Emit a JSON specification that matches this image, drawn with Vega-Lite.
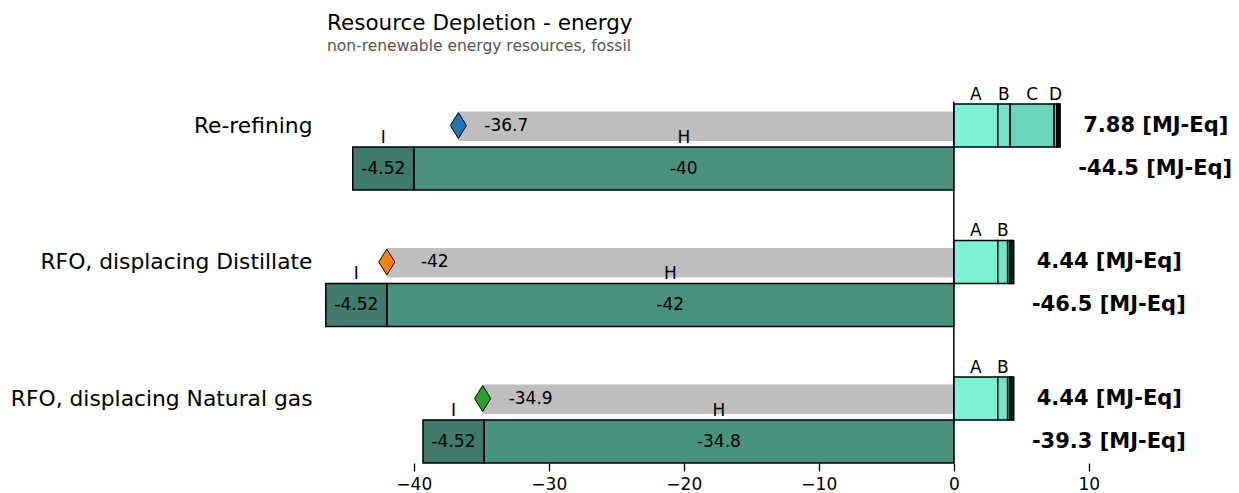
{
  "$schema": "https://vega.github.io/schema/vega-lite/v6.json",
  "width": 820.8,
  "height": 361.5,
  "autosize": {"type": "none"},
  "padding": {"left": 322, "top": 101.5, "right": 96.2, "bottom": 30},
  "title": {
    "text": "Resource Depletion - energy",
    "subtitle": "non-renewable energy resources, fossil",
    "anchor": "start",
    "frame": "group",
    "font": "DejaVu Sans",
    "subtitleFont": "DejaVu Sans",
    "fontSize": 21.5,
    "fontWeight": "normal",
    "color": "black",
    "subtitleFontSize": 15.5,
    "subtitleColor": "#555555",
    "subtitlePadding": 5,
    "dx": 5,
    "offset": 31
  },
  "config": {
    "font": "DejaVu Sans",
    "view": {"stroke": null},
    "locale": {"number": {"decimal": ".", "thousands": ",", "grouping": [3], "currency": ["", " [MJ-Eq]"], "minus": "-"}},
    "axisX": {"grid": false, "domain": false, "tickColor": "black", "tickSize": 8, "tickWidth": 1.3, "labelFontSize": 17, "labelColor": "black", "labelPadding": 5, "labelFont": "DejaVu Sans"},
    "axisY": {"grid": false, "domain": false, "ticks": false, "labelFontSize": 21.8, "labelColor": "black", "labelPadding": 10, "labelOffset": -21.5, "labelLimit": 0, "labelFont": "DejaVu Sans"}
  },
  "datasets": {
    "segments": [
      {"cat": "Re-refining", "row": "pos", "seg": "A", "value": 3.26, "label": "A"},
      {"cat": "Re-refining", "row": "pos", "seg": "B", "value": 0.91, "label": "B"},
      {"cat": "Re-refining", "row": "pos", "seg": "C", "value": 3.26, "label": "C"},
      {"cat": "Re-refining", "row": "pos", "seg": "D", "value": 0.2, "label": "D"},
      {"cat": "Re-refining", "row": "pos", "seg": "E", "value": 0.12, "label": ""},
      {"cat": "Re-refining", "row": "pos", "seg": "F", "value": 0.13, "label": ""},
      {"cat": "Re-refining", "row": "neg", "seg": "H", "value": -40, "label": "H"},
      {"cat": "Re-refining", "row": "neg", "seg": "I", "value": -4.52, "label": "I"},
      {"cat": "RFO, displacing Distillate", "row": "pos", "seg": "A", "value": 3.26, "label": "A"},
      {"cat": "RFO, displacing Distillate", "row": "pos", "seg": "B", "value": 0.73, "label": "B"},
      {"cat": "RFO, displacing Distillate", "row": "pos", "seg": "C", "value": 0.17, "label": ""},
      {"cat": "RFO, displacing Distillate", "row": "pos", "seg": "E", "value": 0.13, "label": ""},
      {"cat": "RFO, displacing Distillate", "row": "pos", "seg": "F", "value": 0.15, "label": ""},
      {"cat": "RFO, displacing Distillate", "row": "neg", "seg": "H", "value": -42, "label": "H"},
      {"cat": "RFO, displacing Distillate", "row": "neg", "seg": "I", "value": -4.52, "label": "I"},
      {"cat": "RFO, displacing Natural gas", "row": "pos", "seg": "A", "value": 3.26, "label": "A"},
      {"cat": "RFO, displacing Natural gas", "row": "pos", "seg": "B", "value": 0.73, "label": "B"},
      {"cat": "RFO, displacing Natural gas", "row": "pos", "seg": "C", "value": 0.17, "label": ""},
      {"cat": "RFO, displacing Natural gas", "row": "pos", "seg": "E", "value": 0.13, "label": ""},
      {"cat": "RFO, displacing Natural gas", "row": "pos", "seg": "F", "value": 0.15, "label": ""},
      {"cat": "RFO, displacing Natural gas", "row": "neg", "seg": "H", "value": -34.8, "label": "H"},
      {"cat": "RFO, displacing Natural gas", "row": "neg", "seg": "I", "value": -4.52, "label": "I"}
    ],
    "totals": [
      {"cat": "Re-refining", "pos": 7.88, "neg": -44.52, "net": -36.7},
      {"cat": "RFO, displacing Distillate", "pos": 4.44, "neg": -46.52, "net": -42.0},
      {"cat": "RFO, displacing Natural gas", "pos": 4.44, "neg": -39.32, "net": -34.9}
    ]
  },
  "layer": [
    {
      "data": {"name": "totals"},
      "mark": {"type": "bar", "color": "#bebebe", "height": {"band": 0.342}, "yOffset": -20.8},
      "encoding": {
        "x": {"field": "net", "type": "quantitative", "title": null, "scale": {"domain": [-46.8, 14], "nice": false, "zero": false}, "axis": {"values": [-40, -30, -20, -10, 0, 10], "labelExpr": "replace(datum.label, '-', '\u2212')", "title": null}},
        "x2": {"datum": 0},
        "y": {"field": "cat", "type": "nominal", "title": null, "sort": null, "scale": {"domain": ["Re-refining", "RFO, displacing Distillate", "RFO, displacing Natural gas"], "paddingInner": 0.37, "paddingOuter": 0.0092, "align": 1}}
      }
    },
    {
      "data": {"name": "segments"},
      "transform": [
        {"stack": "value", "groupby": ["cat", "row"], "sort": [{"field": "seg", "order": "ascending"}], "as": ["v0", "v1"], "offset": "zero"}
      ],
      "mark": {"type": "bar", "stroke": "black", "strokeWidth": 1.5},
      "encoding": {
        "x": {"field": "v0", "type": "quantitative", "title": null, "scale": {"domain": [-46.8, 14], "nice": false, "zero": false}, "axis": {"values": [-40, -30, -20, -10, 0, 10], "labelExpr": "replace(datum.label, '-', '\u2212')", "title": null}},
        "x2": {"field": "v1", "title": null},
        "y": {"field": "cat", "type": "nominal", "title": null, "sort": null, "scale": {"domain": ["Re-refining", "RFO, displacing Distillate", "RFO, displacing Natural gas"], "paddingInner": 0.37, "paddingOuter": 0.0092, "align": 1}},
        "yOffset": {"field": "row", "type": "nominal", "scale": {"domain": ["pos", "neg"], "paddingInner": 0, "paddingOuter": 0}},
        "color": {"field": "seg", "type": "nominal", "legend": null, "scale": {"domain": ["A", "B", "C", "D", "E", "F", "H", "I"], "range": ["#7af2d4", "#72e4ca", "#68d6bb", "#5ec8ad", "#2d6e5e", "#1e4f43", "#4a917e", "#3f7a6a"]}}
      }
    },
    {
      "data": {"values": [{}]},
      "mark": {"type": "rule", "color": "black", "strokeWidth": 1.5},
      "encoding": {
        "x": {"datum": 0, "type": "quantitative", "title": null, "scale": {"domain": [-46.8, 14], "nice": false, "zero": false}, "axis": {"values": [-40, -30, -20, -10, 0, 10], "labelExpr": "replace(datum.label, '-', '\u2212')", "title": null}}
      }
    },
    {
      "data": {"name": "totals"},
      "mark": {"type": "point", "shape": "M0,-1L0.62,0L0,1L-0.62,0Z", "size": 676, "filled": true, "stroke": "black", "strokeWidth": 1, "opacity": 1},
      "encoding": {
        "x": {"field": "net", "type": "quantitative", "title": null, "scale": {"domain": [-46.8, 14], "nice": false, "zero": false}, "axis": {"values": [-40, -30, -20, -10, 0, 10], "labelExpr": "replace(datum.label, '-', '\u2212')", "title": null}},
        "y": {"field": "cat", "type": "nominal", "title": null, "sort": null, "scale": {"domain": ["Re-refining", "RFO, displacing Distillate", "RFO, displacing Natural gas"], "paddingInner": 0.37, "paddingOuter": 0.0092, "align": 1}},
        "yOffset": {"datum": "pos", "type": "nominal", "scale": {"domain": ["pos", "neg"], "paddingInner": 0, "paddingOuter": 0}},
        "fill": {"field": "cat", "type": "nominal", "legend": null, "scale": {"domain": ["Re-refining", "RFO, displacing Distillate", "RFO, displacing Natural gas"], "range": ["#1f77b4", "#ff7f0e", "#2ca02c"]}}
      }
    },
    {
      "data": {"name": "totals"},
      "mark": {"type": "text", "align": "center", "baseline": "middle", "dx": 48, "fontSize": 17, "color": "black"},
      "encoding": {
        "x": {"field": "net", "type": "quantitative", "title": null, "scale": {"domain": [-46.8, 14], "nice": false, "zero": false}, "axis": {"values": [-40, -30, -20, -10, 0, 10], "labelExpr": "replace(datum.label, '-', '\u2212')", "title": null}},
        "y": {"field": "cat", "type": "nominal", "title": null, "sort": null, "scale": {"domain": ["Re-refining", "RFO, displacing Distillate", "RFO, displacing Natural gas"], "paddingInner": 0.37, "paddingOuter": 0.0092, "align": 1}},
        "yOffset": {"datum": "pos", "type": "nominal", "scale": {"domain": ["pos", "neg"], "paddingInner": 0, "paddingOuter": 0}},
        "text": {"field": "net", "type": "quantitative", "format": ".3~g"}
      }
    },
    {
      "data": {"name": "segments"},
      "transform": [
        {"stack": "value", "groupby": ["cat", "row"], "sort": [{"field": "seg", "order": "ascending"}], "as": ["v0", "v1"], "offset": "zero"},
        {"filter": "datum.label != ''"},
        {"fold": ["v0", "v1"], "as": ["k", "xpos"]}
      ],
      "mark": {"type": "text", "align": "center", "baseline": "alphabetic", "dy": -26, "fontSize": 17, "color": "black"},
      "encoding": {
        "x": {"aggregate": "mean", "field": "xpos", "type": "quantitative", "title": null, "scale": {"domain": [-46.8, 14], "nice": false, "zero": false}, "axis": {"values": [-40, -30, -20, -10, 0, 10], "labelExpr": "replace(datum.label, '-', '\u2212')", "title": null}},
        "y": {"field": "cat", "type": "nominal", "title": null, "sort": null, "scale": {"domain": ["Re-refining", "RFO, displacing Distillate", "RFO, displacing Natural gas"], "paddingInner": 0.37, "paddingOuter": 0.0092, "align": 1}},
        "yOffset": {"field": "row", "type": "nominal", "scale": {"domain": ["pos", "neg"], "paddingInner": 0, "paddingOuter": 0}},
        "detail": {"field": "seg", "type": "nominal"},
        "text": {"field": "label", "type": "nominal"}
      }
    },
    {
      "data": {"name": "segments"},
      "transform": [
        {"stack": "value", "groupby": ["cat", "row"], "sort": [{"field": "seg", "order": "ascending"}], "as": ["v0", "v1"], "offset": "zero"},
        {"filter": "datum.row == 'neg'"},
        {"fold": ["v0", "v1"], "as": ["k", "xpos"]}
      ],
      "mark": {"type": "text", "align": "center", "baseline": "middle", "fontSize": 17, "color": "black"},
      "encoding": {
        "x": {"aggregate": "mean", "field": "xpos", "type": "quantitative", "title": null, "scale": {"domain": [-46.8, 14], "nice": false, "zero": false}, "axis": {"values": [-40, -30, -20, -10, 0, 10], "labelExpr": "replace(datum.label, '-', '\u2212')", "title": null}},
        "y": {"field": "cat", "type": "nominal", "title": null, "sort": null, "scale": {"domain": ["Re-refining", "RFO, displacing Distillate", "RFO, displacing Natural gas"], "paddingInner": 0.37, "paddingOuter": 0.0092, "align": 1}},
        "yOffset": {"field": "row", "type": "nominal", "scale": {"domain": ["pos", "neg"], "paddingInner": 0, "paddingOuter": 0}},
        "detail": {"field": "seg", "type": "nominal"},
        "text": {"field": "value", "type": "quantitative", "format": ".3~g"}
      }
    },
    {
      "data": {"name": "totals"},
      "mark": {"type": "text", "align": "left", "baseline": "middle", "dx": 23, "fontSize": 21, "fontWeight": "bold", "color": "black"},
      "encoding": {
        "x": {"field": "pos", "type": "quantitative", "title": null, "scale": {"domain": [-46.8, 14], "nice": false, "zero": false}, "axis": {"values": [-40, -30, -20, -10, 0, 10], "labelExpr": "replace(datum.label, '-', '\u2212')", "title": null}},
        "y": {"field": "cat", "type": "nominal", "title": null, "sort": null, "scale": {"domain": ["Re-refining", "RFO, displacing Distillate", "RFO, displacing Natural gas"], "paddingInner": 0.37, "paddingOuter": 0.0092, "align": 1}},
        "yOffset": {"datum": "pos", "type": "nominal", "scale": {"domain": ["pos", "neg"], "paddingInner": 0, "paddingOuter": 0}},
        "text": {"field": "pos", "type": "quantitative", "format": "$.3~g"}
      }
    },
    {
      "data": {"name": "totals"},
      "mark": {"type": "text", "align": "right", "baseline": "middle", "dx": 172, "fontSize": 21, "fontWeight": "bold", "color": "black"},
      "encoding": {
        "x": {"field": "pos", "type": "quantitative", "title": null, "scale": {"domain": [-46.8, 14], "nice": false, "zero": false}, "axis": {"values": [-40, -30, -20, -10, 0, 10], "labelExpr": "replace(datum.label, '-', '\u2212')", "title": null}},
        "y": {"field": "cat", "type": "nominal", "title": null, "sort": null, "scale": {"domain": ["Re-refining", "RFO, displacing Distillate", "RFO, displacing Natural gas"], "paddingInner": 0.37, "paddingOuter": 0.0092, "align": 1}},
        "yOffset": {"datum": "neg", "type": "nominal", "scale": {"domain": ["pos", "neg"], "paddingInner": 0, "paddingOuter": 0}},
        "text": {"field": "neg", "type": "quantitative", "format": "$.3~g"}
      }
    }
  ]
}
